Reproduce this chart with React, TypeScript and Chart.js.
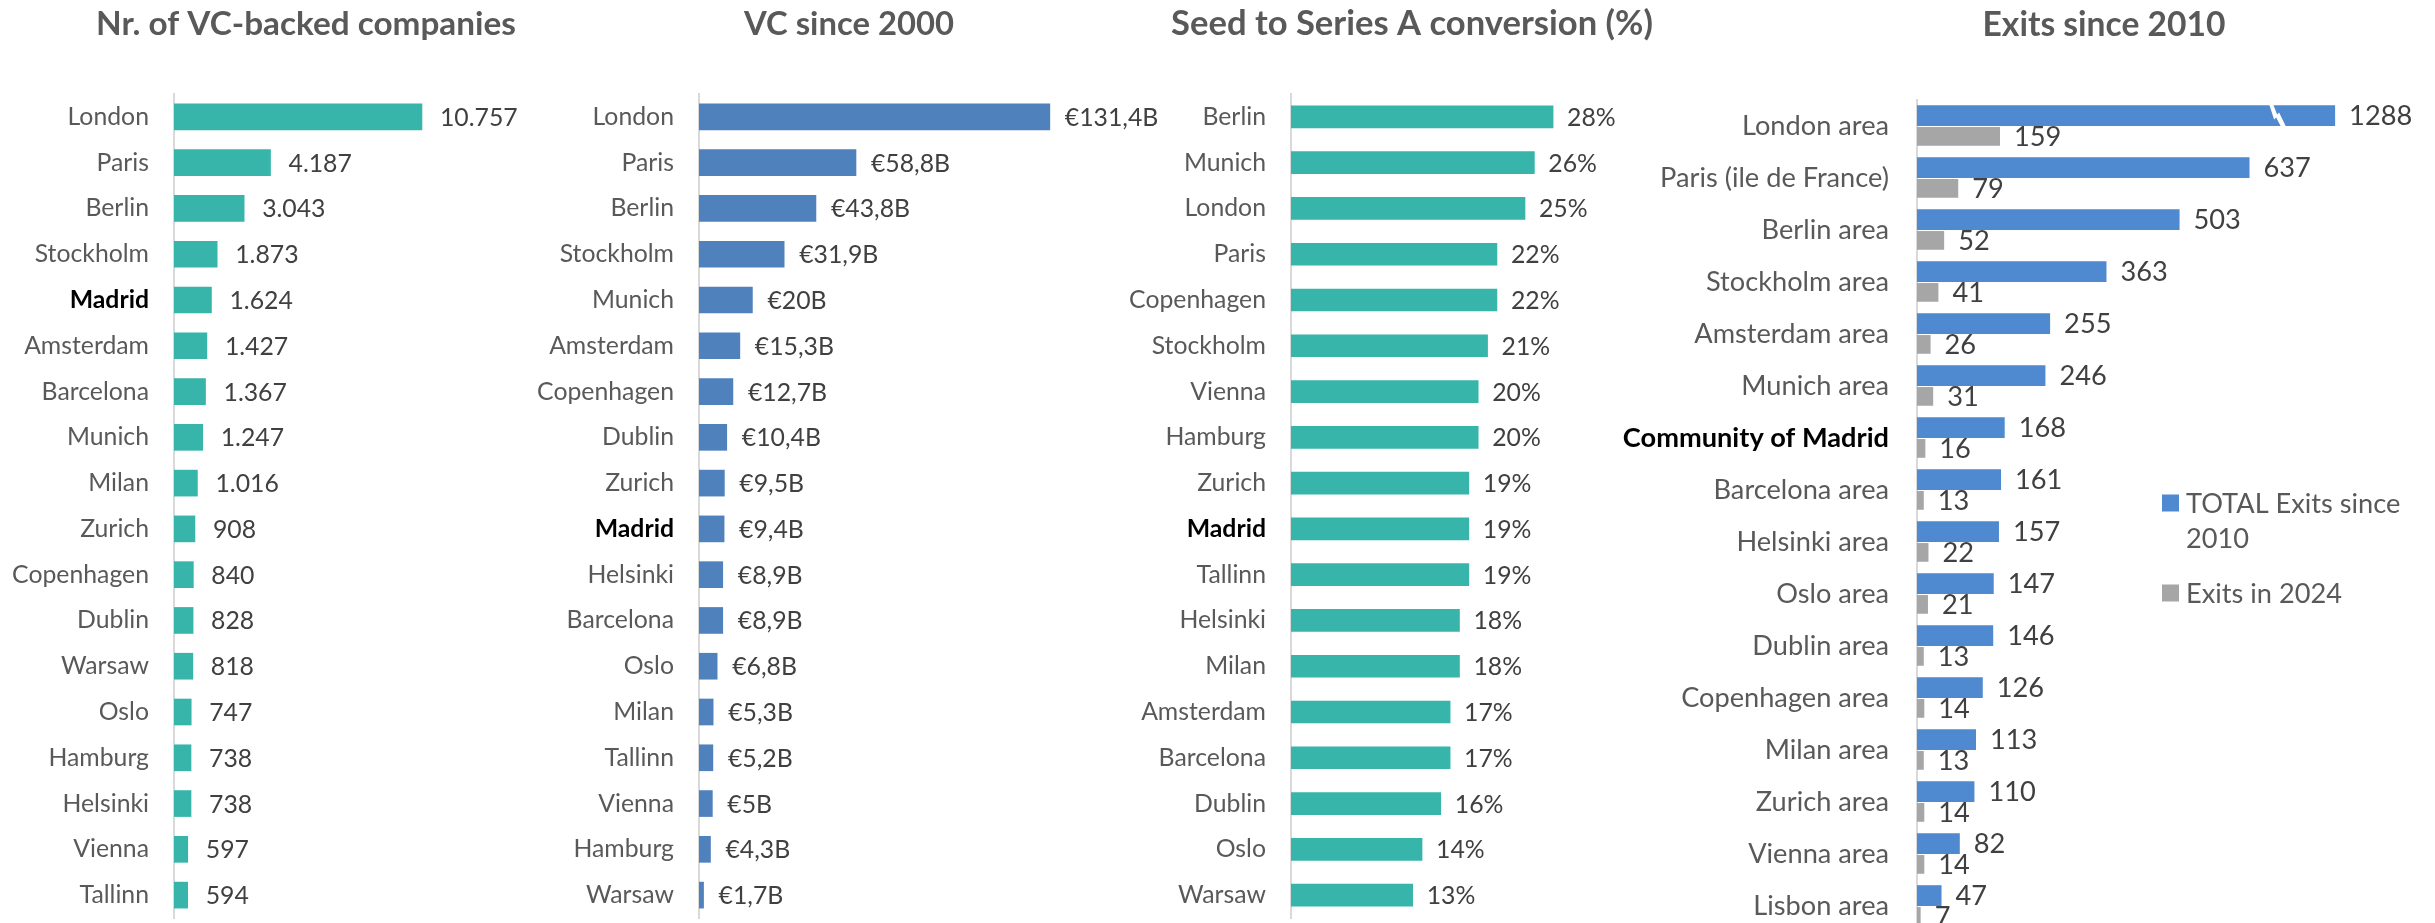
import React, { useEffect, useRef } from "react";
import { Chart, registerables } from "chart.js";

Chart.register(...registerables);

// ---------------- DATA ----------------
const companyCities = ["London", "Paris", "Berlin", "Stockholm", "Madrid", "Amsterdam", "Barcelona", "Munich", "Milan", "Zurich", "Copenhagen", "Dublin", "Warsaw", "Oslo", "Hamburg", "Helsinki", "Vienna", "Tallinn"];
const companyCounts = [10757, 4187, 3043, 1873, 1624, 1427, 1367, 1247, 1016, 908, 840, 828, 818, 747, 738, 738, 597, 594];

const vcCities = ["London", "Paris", "Berlin", "Stockholm", "Munich", "Amsterdam", "Copenhagen", "Dublin", "Zurich", "Madrid", "Helsinki", "Barcelona", "Oslo", "Milan", "Tallinn", "Vienna", "Hamburg", "Warsaw"];
const vcBillions = [131.4, 58.8, 43.8, 31.9, 20, 15.3, 12.7, 10.4, 9.5, 9.4, 8.9, 8.9, 6.8, 5.3, 5.2, 5, 4.3, 1.7];

const seedCities = ["Berlin", "Munich", "London", "Paris", "Copenhagen", "Stockholm", "Vienna", "Hamburg", "Zurich", "Madrid", "Tallinn", "Helsinki", "Milan", "Amsterdam", "Barcelona", "Dublin", "Oslo", "Warsaw"];
const seedPercent = [28, 26, 25, 22, 22, 21, 20, 20, 19, 19, 19, 18, 18, 17, 17, 16, 14, 13];

const exitAreas = ["London area", "Paris (ile de France)", "Berlin area", "Stockholm area", "Amsterdam area", "Munich area", "Community of Madrid", "Barcelona area", "Helsinki area", "Oslo area", "Dublin area", "Copenhagen area", "Milan area", "Zurich area", "Vienna area", "Lisbon area"];
const exitsTotal = [1288, 637, 503, 363, 255, 246, 168, 161, 157, 147, 146, 126, 113, 110, 82, 47];
const exits2024 = [159, 79, 52, 41, 26, 31, 16, 13, 22, 21, 13, 14, 13, 14, 14, 7];
const exitSeriesNames = ["TOTAL Exits since 2010", "Exits in 2024"];
// value at which the exits axis is broken (London bar is drawn truncated)
const EXIT_AXIS_BREAK = 801;

// ---------------- STYLE ----------------
const FONT = "Lato, 'Open Sans', sans-serif";
const TEAL = "#37B5AA";
const BLUE = "#4F81BD";
const BLUE2 = "#4F89CF";
const GREY = "#A6A6A6";
const LABEL_COLOR = "#595959";
const VALUE_COLOR = "#404040";

const deFmt = new Intl.NumberFormat("de-DE", { maximumFractionDigits: 1 });

function fitSize(text: string, weight: string, target: number): number {
  const c = document.createElement("canvas").getContext("2d")!;
  c.font = `${weight} 100px ${FONT}`;
  return (100 * target) / c.measureText(text).width;
}

const isHighlight = (label: string) => label.indexOf("Madrid") >= 0;

// ---------------- PLUGINS ----------------
const panelTitlePlugin = {
  id: "panelTitle",
  afterDraw(chart: any, _a: any, o: any) {
    const ctx = chart.ctx;
    ctx.save();
    ctx.font = `bold ${o.size}px ${FONT}`;
    ctx.fillStyle = LABEL_COLOR;
    ctx.textAlign = "center";
    ctx.textBaseline = "alphabetic";
    ctx.fillText(o.text, o.x, o.y);
    ctx.restore();
  },
};

const valueLabelPlugin = {
  id: "valueLabels",
  afterDatasetsDraw(chart: any, _a: any, o: any) {
    const ctx = chart.ctx;
    ctx.save();
    ctx.font = `${o.size}px ${FONT}`;
    ctx.fillStyle = VALUE_COLOR;
    ctx.textAlign = "left";
    ctx.textBaseline = "middle";
    chart.data.datasets.forEach((_ds: any, di: number) => {
      const meta = chart.getDatasetMeta(di);
      const texts = o.texts[di];
      meta.data.forEach((bar: any, i: number) => {
        ctx.fillText(texts[i], bar.x + o.offset, bar.y + 1);
      });
    });
    ctx.restore();
  },
};

const axisBreakPlugin = {
  id: "axisBreak",
  afterDatasetsDraw(chart: any, _a: any, o: any) {
    if (!o || !o.original) return;
    const ctx = chart.ctx;
    const meta = chart.getDatasetMeta(o.datasetIndex);
    meta.data.forEach((bar: any, i: number) => {
      if (o.original[i] <= o.cap) return;
      const x = bar.x - o.fromEnd;
      const top = bar.y - bar.height / 2 - 1;
      const bottom = bar.y + bar.height / 2 + 1;
      const mid = bar.y;
      ctx.save();
      ctx.fillStyle = "#FFFFFF";
      ctx.beginPath();
      ctx.moveTo(x - 9, top);
      ctx.lineTo(x - 5, top);
      ctx.lineTo(x - 1, mid - 1);
      ctx.lineTo(x + 1, mid - 3);
      ctx.lineTo(x + 8, bottom);
      ctx.lineTo(x + 3, bottom);
      ctx.lineTo(x - 2, mid + 2);
      ctx.lineTo(x - 4, mid + 4);
      ctx.closePath();
      ctx.fill();
      ctx.restore();
    });
  },
};

const sideLegendPlugin = {
  id: "sideLegend",
  afterDraw(chart: any, _a: any, o: any) {
    if (!o || !o.show) return;
    const ctx = chart.ctx;
    ctx.save();
    ctx.font = `${o.size}px ${FONT}`;
    ctx.textBaseline = "middle";
    ctx.textAlign = "left";
    let y = o.y;
    chart.data.datasets.forEach((ds: any) => {
      const words = String(ds.label).split(" ");
      const lines: string[] = [];
      let cur = "";
      words.forEach((w) => {
        const t = cur ? cur + " " + w : w;
        if (ctx.measureText(t).width > o.maxWidth && cur) {
          lines.push(cur);
          cur = w;
        } else cur = t;
      });
      if (cur) lines.push(cur);
      ctx.fillStyle = ds.backgroundColor;
      ctx.fillRect(o.x, y - o.box / 2, o.box, o.box);
      ctx.fillStyle = LABEL_COLOR;
      lines.forEach((ln, li) => ctx.fillText(ln, o.x + o.box + o.gap, y + li * o.lineHeight + 1));
      y += (lines.length - 1) * o.lineHeight + o.itemGap;
    });
    ctx.restore();
  },
};

// ---------------- PANEL ----------------
type PanelSpec = {
  left: number;
  width: number;
  height: number;
  axisX: number;
  ppu: number;
  top: number;
  bottom: number;
  title: string;
  titleX: number;
  titleY: number;
  titleWidth: number;
  fitText: string;
  fitWidth: number;
  labels: string[];
  datasets: any[];
  texts: string[][];
  valueOffset: number;
  tickPad: number;
  breakOpts?: any;
  legend?: boolean;
};

function BarPanel({ spec }: { spec: PanelSpec }) {
  const ref = useRef<HTMLCanvasElement>(null);
  useEffect(() => {
    const s = spec;
    const labelSize = fitSize(s.fitText, "normal", s.fitWidth);
    const titleSize = fitSize(s.title, "bold", s.titleWidth);
    const yWidth = s.axisX - s.left;
    const max = (s.width - yWidth) / s.ppu;
    const chart = new Chart(ref.current as HTMLCanvasElement, {
      type: "bar",
      data: { labels: s.labels, datasets: s.datasets },
      options: {
        indexAxis: "y",
        animation: false,
        responsive: false,
        maintainAspectRatio: false,
        devicePixelRatio: 1,
        events: [],
        layout: { padding: { top: s.top, bottom: s.height - s.bottom, left: 0, right: 0 } },
        scales: {
          x: { display: false, min: 0, max },
          y: {
            grid: { display: false, drawTicks: false },
            border: { display: true, color: "#D9D9D9", width: 2 },
            ticks: {
              autoSkip: false,
              padding: s.tickPad,
              color: (c: any) => (c.tick && isHighlight(c.tick.label) ? "#000000" : LABEL_COLOR),
              font: (c: any) => ({
                family: FONT,
                size: labelSize,
                weight: c.tick && isHighlight(c.tick.label) ? "bold" : "normal",
              }),
            },
            afterFit: (sc: any) => {
              sc.width = yWidth;
              sc.paddingTop = 0;
              sc.paddingBottom = 0;
            },
          },
        },
        plugins: {
          legend: { display: false },
          tooltip: { enabled: false },
          title: { display: false },
          panelTitle: { text: s.title, x: s.titleX - s.left, y: s.titleY, size: titleSize },
          valueLabels: { texts: s.texts, offset: s.valueOffset, size: labelSize },
          axisBreak: s.breakOpts || {},
          sideLegend: s.legend
            ? { show: true, x: 2162 - s.left, y: 503, box: 17, gap: 7, size: labelSize, maxWidth: 215, lineHeight: 35, itemGap: 55 }
            : { show: false },
        } as any,
      },
      plugins: [panelTitlePlugin, valueLabelPlugin, axisBreakPlugin, sideLegendPlugin],
    } as any);
    return () => chart.destroy();
  }, [spec]);
  return (
    <canvas
      ref={ref}
      width={spec.width}
      height={spec.height}
      style={{ position: "absolute", left: spec.left, top: 0, width: spec.width, height: spec.height }}
    />
  );
}

const specs: PanelSpec[] = [
  {
    left: 0, width: 620, height: 923, axisX: 174, ppu: 0.02305, top: 94, bottom: 918,
    title: "Nr. of VC-backed companies", titleX: 306, titleY: 35, titleWidth: 420,
    fitText: "Copenhagen", fitWidth: 137,
    labels: companyCities,
    datasets: [{ data: companyCounts, backgroundColor: TEAL, barThickness: 26 }],
    texts: [companyCounts.map((v) => deFmt.format(v))],
    valueOffset: 18, tickPad: 25,
  },
  {
    left: 520, width: 660, height: 923, axisX: 699, ppu: 2.67, top: 94, bottom: 918,
    title: "VC since 2000", titleX: 849, titleY: 35, titleWidth: 210,
    fitText: "Copenhagen", fitWidth: 137,
    labels: vcCities,
    datasets: [{ data: vcBillions, backgroundColor: BLUE, barThickness: 26 }],
    texts: [vcBillions.map((v) => "€" + deFmt.format(v) + "B")],
    valueOffset: 15, tickPad: 25,
  },
  {
    left: 1100, width: 580, height: 923, axisX: 1291, ppu: 9.36, top: 94, bottom: 918,
    title: "Seed to Series A conversion (%)", titleX: 1412, titleY: 35, titleWidth: 482,
    fitText: "Copenhagen", fitWidth: 137,
    labels: seedCities,
    datasets: [{ data: seedPercent, backgroundColor: TEAL, barThickness: 22 }],
    texts: [seedPercent.map((v) => v + "%")],
    valueOffset: 14, tickPad: 25,
  },
  {
    left: 1600, width: 835, height: 945, axisX: 1917, ppu: 0.522, top: 100, bottom: 932,
    title: "Exits since 2010", titleX: 2104, titleY: 36, titleWidth: 243,
    fitText: "Copenhagen area", fitWidth: 208,
    labels: exitAreas,
    datasets: [
      { label: exitSeriesNames[0], data: exitsTotal.map((v) => Math.min(v, EXIT_AXIS_BREAK)), backgroundColor: BLUE2, categoryPercentage: 0.8, barPercentage: 1 },
      { label: exitSeriesNames[1], data: exits2024, backgroundColor: GREY, categoryPercentage: 0.8, barPercentage: 0.9 },
    ],
    texts: [exitsTotal.map((v) => String(v)), exits2024.map((v) => String(v))],
    valueOffset: 14, tickPad: 28,
    breakOpts: { datasetIndex: 0, original: exitsTotal, cap: EXIT_AXIS_BREAK, fromEnd: 57 },
    legend: true,
  },
];

export default function App() {
  return (
    <div style={{ position: "fixed", left: 0, top: 0, width: 2435, height: 923, overflow: "hidden", background: "#FFFFFF" }}>
      {specs.map((s, i) => (
        <BarPanel key={i} spec={s} />
      ))}
    </div>
  );
}
